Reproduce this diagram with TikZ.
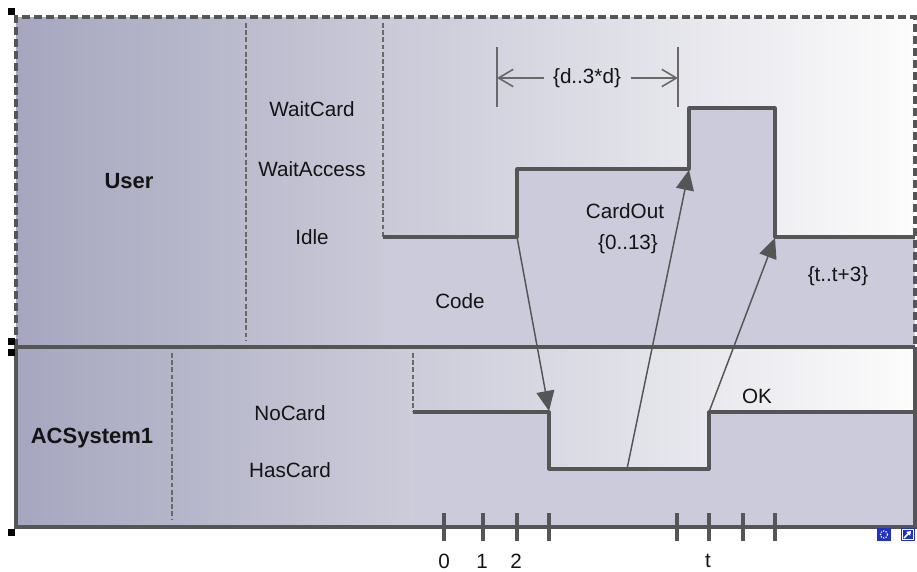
\documentclass[tikz,border=0pt]{standalone}
\usepackage{fontspec}
\setmainfont{Liberation Sans}
\usetikzlibrary{arrows.meta}
\definecolor{laneleft}{RGB}{166,166,191}
\definecolor{laneright}{RGB}{252,252,252}
\definecolor{lavender}{RGB}{203,203,219}
\definecolor{edge}{RGB}{85,85,85}
\definecolor{guide}{RGB}{105,105,105}
\definecolor{iconblue}{RGB}{30,50,200}
\tikzset{
  label/.style={font=\fontsize{15.5}{18}\selectfont, text=black!92, inner sep=1pt},
  lanename/.style={label, font=\fontsize{16.5}{18}\selectfont\bfseries},
  stateline/.style={draw=edge, line width=2.4pt, line join=round},
  frameline/.style={draw=edge, line width=2.5pt},
  separator/.style={draw=guide, line width=1.1pt, dash pattern=on 3.6pt off 1.8pt},
  msg/.style={draw=edge, line width=1.1pt, -{Triangle[length=15pt,width=13.5pt]}},
  dimline/.style={draw=guide, line width=1.2pt},
  dimarrow/.style={dimline, -{Straight Barb[length=11pt,width=13pt]}},
  handle/.style={fill=black},
}
\begin{document}
\begin{tikzpicture}[x=0.75pt,y=-0.75pt]
  \useasboundingbox (0,0) rectangle (917,571);
  % lane backgrounds
  \shade[left color=laneleft,right color=laneright] (16,17) rectangle (915,347);
  \shade[left color=laneleft,right color=laneright] (16,347) rectangle (915,527);
  % area under the state lines
  \fill[lavender] (383,237) -- (517,237) -- (517,169) -- (689,169) -- (689,108)
    -- (775,108) -- (775,237) -- (915,237) -- (915,347) -- (383,347) -- cycle;
  \fill[lavender] (413,412) -- (549,412) -- (549,469) -- (709,469) -- (709,412)
    -- (915,412) -- (915,527) -- (413,527) -- cycle;
  % frame
  \draw[frameline, dash pattern=on 6pt off 3pt] (16,347) -- (16,17) -- (915,17) -- (915,347);
  \draw[frameline] (16,347) -- (915,347);
  \draw[frameline] (16,347) -- (16,527) -- (915,527) -- (915,347);
  % column separators
  \draw[separator] (246,23) -- (246,341);
  \draw[separator] (383,23) -- (383,237);
  \draw[separator] (172,353) -- (172,519);
  \draw[separator] (413,353) -- (413,412);
  % lane names and states
  \node[lanename] (user) at (129,181) {User};
  \node[lanename] (acsystem) at (92,438) {ACSystem1};
  \node[label] (waitcard) at (312,109) {WaitCard};
  \node[label] (waitaccess) at (312,169) {WaitAccess};
  \node[label] (idle) at (312,237) {Idle};
  \node[label] (nocard) at (290,413) {NoCard};
  \node[label] (hascard) at (290,470) {HasCard};
  % state lines
  \draw[stateline] (383,237) -- (517,237) -- (517,169) -- (689,169) -- (689,108)
    -- (775,108) -- (775,237) -- (915,237);
  \draw[stateline] (413,412) -- (549,412) -- (549,469) -- (709,469) -- (709,412)
    -- (915,412);
  \coordinate (uIdleEnd) at (517,237);
  \coordinate (uAccessEnd) at (689,170);
  \coordinate (uCardEnd) at (775,238);
  \coordinate (aNoCardEnd) at (549,411);
  \coordinate (aHasCardMid) at (627,469);
  \coordinate (aHasCardEnd) at (709,412);
  % messages
  \draw[msg] (uIdleEnd) -- (aNoCardEnd);
  \draw[msg] (aHasCardMid) -- (uAccessEnd);
  \draw[msg] (aHasCardEnd) -- (uCardEnd);
  \node[label] (code) at (460,301) {Code};
  \node[label] (cardout) at (625,211) {CardOut};
  \node[label] (cardoutc) at (628,244) {\{0..13\}};
  \node[label] (ok) at (757,396) {OK};
  \node[label] (okc) at (838,276) {\{t..t+3\}};
  % duration constraint
  \coordinate (dFrom) at (497,78);
  \coordinate (dTo) at (678,78);
  \draw[dimline] (497,47) -- (497,107);
  \draw[dimline] (678,47) -- (678,107);
  \node[label, inner xsep=7pt] (dlabel) at (587,78) {\{d..3*d\}};
  \draw[dimarrow] (dlabel.west) -- (dFrom);
  \draw[dimarrow] (dlabel.east) -- (dTo);
  % time ruler
  \foreach \tx in {444,483,517,549,677,709,743,775}
    \draw[frameline] (\tx,513) -- (\tx,541);
  \node[label] (t0) at (444,561) {0};
  \node[label] (t1) at (482,561) {1};
  \node[label] (t2) at (516,561) {2};
  \node[label] (tt) at (708,561) {t};
  % selection handles
  \foreach \hy in {11,341,352,532}
    \fill[handle] (7.5,\hy-3.5) rectangle +(7,7);
  % corner icons
  \fill[iconblue] (877,528) rectangle (891,541);
  \draw[white, line width=0.9pt, densely dotted] (884,534.5) circle (3.5);
  \fill[iconblue] (901,528) rectangle (915,541);
  \draw[white, line width=0.6pt] (902.5,529.5) rectangle (913.5,539.5);
  \draw[white, line width=1.3pt, -{Triangle[length=3pt,width=4pt]}] (904,538) -- (911,531);
\end{tikzpicture}
\end{document}
